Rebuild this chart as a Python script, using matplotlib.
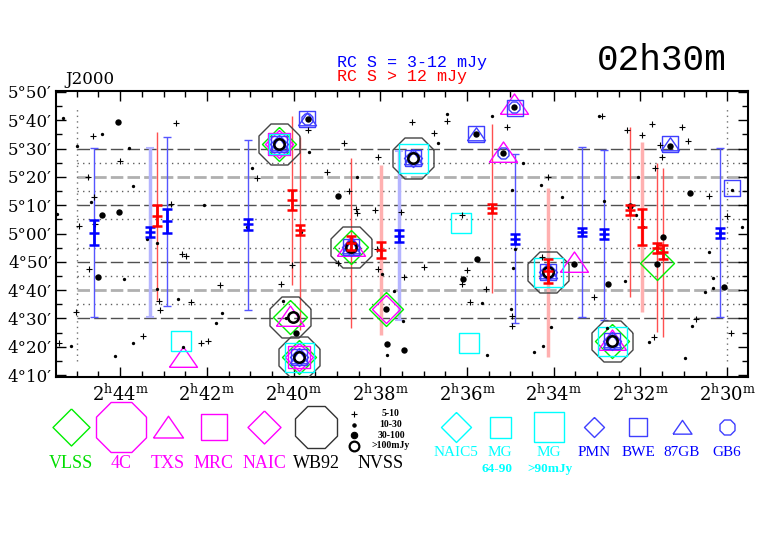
import numpy as np
import matplotlib
matplotlib.use('Agg')
import matplotlib.pyplot as plt
from matplotlib.ticker import MultipleLocator

plt.rcParams['font.family'] = 'DejaVu Serif'
plt.rcParams['mathtext.fontset'] = 'dejavuserif'

# RA in minutes after 2h, Dec in arcmin (300 = 5d00m)

# NVSS sources by flux class
nv_plus_ra = [44.62, 44.00, 42.71, 44.74, 44.60, 42.82, 40.84, 45.41, 45.01, 44.95, 44.71, 44.58, 43.47,
              43.10, 43.08, 42.57, 42.48, 42.36, 42.13, 41.97, 41.69, 39.66, 38.83, 39.23, 38.05, 38.72,
              38.56, 38.53, 38.12, 37.52, 37.27, 36.46, 36.76, 40.03, 40.29, 38.97, 38.07, 38.05, 37.45,
              36.99, 36.00, 36.11, 35.56, 35.93, 36.11, 35.07, 34.13, 32.88, 32.31, 31.96, 31.73, 31.55,
              31.50, 31.66, 31.04, 30.90, 30.42, 30.00, 34.96, 34.96, 34.27, 33.07, 31.68, 30.71, 29.91]
nv_plus_dec = [334.5, 325.6, 339.0, 320.0, 312.9, 310.4, 319.6, 261.3, 272.3, 302.7, 287.5, 303.4, 263.8,
               276.1, 273.0, 292.8, 292.0, 275.8, 261.3, 262.0, 281.8, 336.6, 332.0, 321.7, 327.0, 315.0,
               308.7, 307.2, 308.3, 307.6, 339.4, 339.8, 335.5, 288.9, 282.2, 289.6, 294.5, 287.5, 284.6,
               288.2, 287.1, 282.2, 280.4, 275.8, 306.5, 337.6, 320.0, 341.5, 336.6, 334.8, 338.7, 331.3,
               327.0, 323.1, 337.6, 332.7, 313.3, 306.2, 270.8, 267.3, 291.7, 277.6, 263.4, 269.8, 264.8]

nv_small_ra = [45.31, 44.99, 44.42, 43.79, 43.70, 44.67, 42.06, 45.45, 40.96, 45.13, 43.91, 44.12, 43.70,
               43.38, 43.15, 43.15, 42.66, 42.55, 41.79, 41.65, 41.07, 39.64, 38.53, 36.46, 36.67, 35.42,
               39.83, 40.24, 40.17, 37.96, 37.68, 37.47, 37.84, 35.65, 35.54, 34.71, 34.29, 34.96, 33.81,
               32.95, 32.84, 32.10, 32.05, 34.89, 34.94, 34.98, 34.06, 34.24, 34.45, 32.77, 32.35, 31.94,
               31.80, 30.97, 30.81, 30.51, 30.32, 30.32, 30.42, 29.66, 29.89]
nv_small_dec = [340.8, 330.9, 335.2, 330.2, 316.8, 311.1, 310.1, 306.9, 323.1, 260.2, 283.9, 256.7, 261.3,
                298.1, 296.6, 280.4, 276.9, 259.9, 268.4, 271.9, 302.3, 328.8, 320.0, 342.2, 332.0, 341.5,
                300.5, 276.1, 270.1, 285.7, 279.7, 269.1, 257.1, 275.4, 257.1, 324.9, 317.1, 315.4, 312.9,
                341.5, 311.5, 306.5, 320.0, 294.5, 287.8, 273.3, 267.0, 260.2, 258.1, 266.6, 283.2, 302.3,
                261.7, 256.0, 267.3, 279.3, 280.7, 284.3, 293.5, 302.3, 315.4]

nv_mid_ra = [44.05, 44.42, 44.02, 44.51, 39.66, 38.97, 39.94, 37.87, 37.84, 37.45, 35.77, 36.09, 35.79,
             34.91, 35.17, 30.85, 31.32, 32.24, 33.53, 32.75, 31.48, 31.62, 30.07]
nv_mid_dec = [339.4, 306.5, 307.6, 284.6, 340.5, 313.3, 264.8, 273.3, 261.0, 258.8, 291.0, 283.9, 335.2,
              344.7, 328.4, 314.3, 330.9, 309.7, 289.2, 282.2, 298.8, 289.2, 281.1]

nv_big_ra = [40.33, 37.24, 38.67, 40.01, 39.87, 34.13, 32.65]
nv_big_dec = [331.6, 326.7, 295.2, 270.5, 256.4, 286.4, 262.0]

# radio continuum (RC) sources: centre, error, and range
blue_ra = [44.60, 43.31, 42.92, 41.05, 37.57, 34.89, 33.35, 32.84, 30.16]
blue_dec = [300.2, 300.5, 304.4, 303.2, 299.1, 298.1, 300.5, 299.8, 300.2]
blue_err = [4.4, 1.8, 4.1, 1.8, 2.1, 1.8, 1.4, 1.8, 1.8]
blue_lo = [270.5, 270.5, 274.4, 273.0, 269.4, 268.4, 270.5, 269.4, 270.5]
blue_hi = [330.2, 330.2, 334.1, 333.0, 329.1, 328.1, 330.6, 329.5, 330.2]
blue_faint = [False, True, False, False, True, False, False, False, False]

red_ra = [43.15, 40.03, 39.85, 38.67, 37.98, 35.42, 34.13, 32.24, 31.96, 31.62, 31.48]
red_dec = [306.2, 311.8, 301.2, 296.5, 294.2, 308.9, 286.7, 308.3, 302.3, 294.9, 293.5]
red_err = [3.7, 3.5, 1.8, 2.5, 2.8, 1.6, 4.2, 1.8, 6.2, 1.9, 2.6]
red_lo = [276.5, 281.8, 265.9, 266.6, 264.1, 279.0, 256.4, 277.6, 272.3, 265.2, 263.4]
red_hi = [335.9, 341.5, 334.1, 326.7, 324.2, 338.7, 316.1, 337.6, 332.3, 324.9, 323.1]
red_faint = [False, False, False, False, True, False, True, False, True, False, False]

# catalogue positions
wb92_ra = [40.33, 37.24, 38.67, 40.08, 39.87, 34.13, 32.65]
wb92_dec = [331.6, 326.7, 295.2, 270.5, 256.4, 286.4, 262.0]
vlss_ra = [40.33, 38.67, 40.08, 39.87, 32.65, 31.62, 37.87]
vlss_dec = [331.6, 295.2, 270.5, 256.4, 262.0, 289.6, 273.3]
txs_ra = [42.55, 34.91, 35.17, 33.53, 38.67, 40.08, 32.65]
txs_dec = [256.2, 345.9, 328.8, 289.9, 295.5, 271.0, 262.5]
mrc_ra = [40.33, 39.87]
mrc_dec = [331.6, 256.4]
naic_ra = [40.33, 39.87, 37.87]
naic_dec = [331.6, 256.4, 273.3]
mg64_ra = [42.59, 36.14, 35.95, 40.33]
mg64_dec = [262.0, 303.7, 261.3, 331.6]
mg90_ra = [37.24, 39.87, 34.13, 32.65]
mg90_dec = [326.7, 256.4, 286.4, 262.0]
pmn_ra = [40.33, 37.24, 38.67, 39.87, 34.13, 32.65]
pmn_dec = [331.6, 326.7, 295.2, 256.4, 286.4, 262.0]
bwe_ra = [40.33, 39.68, 37.24, 35.79, 34.89, 31.32, 29.89, 38.67, 39.87, 34.13, 32.65]
bwe_dec = [331.6, 340.5, 326.7, 335.2, 344.3, 331.6, 316.1, 295.2, 256.4, 286.4, 262.0]
gb87_ra = [40.33, 39.68, 37.24, 35.79, 31.32, 38.67, 39.87, 34.13, 32.65]
gb87_dec = [331.6, 340.5, 326.7, 335.2, 331.6, 295.2, 256.4, 286.4, 262.0]
gb6_ra = [40.33, 39.68, 37.24, 34.91, 35.17, 39.87, 34.13, 32.65]
gb6_dec = [331.6, 340.5, 326.7, 344.7, 328.4, 256.4, 286.4, 262.0]

# strip boundaries
strip_dark = [330, 310, 290, 270]
strip_light = [320, 280]
strip_dot = [325, 315, 305, 295, 285, 275]
field_ra = [45.0, 30.0]

# marker shapes
ang = np.deg2rad(22.5 + 45 * np.arange(9))
OCTAGON = np.column_stack([np.cos(ang), np.sin(ang)])
DIAMOND = [(0, 1), (1, 0), (0, -1), (-1, 0), (0, 1)]
SQUARE = [(-1, -1), (1, -1), (1, 1), (-1, 1), (-1, -1)]
TRIANGLE = [(-1, -0.7), (1, -0.7), (0, 0.75), (-1, -0.7)]

GREEN = '#00ee00'
MAGENTA = '#ff00ff'
CYAN = '#00ffff'
BLUE = '#3f3fff'
GREY = '#444444'
LEG_FONT = 'Liberation Serif'

fig = plt.figure(figsize=(7.82, 5.42), dpi=100)
lax = fig.add_axes([0, 0, 1, 1])
lax.set_xlim(0, 782)
lax.set_ylim(542, 0)
lax.axis('off')

ax = fig.add_axes([56 / 782, 1 - 377 / 542, 692 / 782, 286 / 542])
ax.set_xlim(45.48, 29.52)
ax.set_ylim(249.3, 350.35)

ax.hlines(strip_dark, 45.0, 29.55, colors='#505050', linestyles=(0, (9, 3)), lw=1.0, zorder=1)
ax.hlines(strip_light, 45.0, 29.55, colors='#b0b0b0', linestyles=(0, (4.5, 1.5)), lw=2.0, zorder=1)
ax.hlines(strip_dot, 45.0, 29.55, colors='#606060', linestyles=(0, (1, 3)), lw=1.0, zorder=1)
ax.vlines(field_ra, 255, 345, colors='#707070', linestyles=(0, (1, 3)), lw=1.0, zorder=1)


def rc_bars(ras, decs, errs, los, his, faint, dark, thin, pale, caps):
    cs = 3 if caps else 0
    for x, y, e, lo, hi, f in zip(ras, decs, errs, los, his, faint):
        rng = [[y - lo], [hi - y]]
        if f:
            ax.errorbar(x, y, yerr=rng, fmt='none', ecolor=pale, elinewidth=2.5,
                        capsize=cs, capthick=1.5, zorder=2)
        else:
            ax.errorbar(x, y, yerr=rng, fmt='none', ecolor=thin, elinewidth=1.0,
                        capsize=cs, capthick=1.0, zorder=2)
        ax.errorbar(x, y, yerr=e, fmt='none', ecolor=dark, elinewidth=2.0, capsize=3.5,
                    capthick=1.8, zorder=5)
        ax.plot(x, y, marker='_', ms=7, mew=1.8, color=dark, zorder=5)


rc_bars(blue_ra, blue_dec, blue_err, blue_lo, blue_hi, blue_faint, '#0000ff', '#5555ff', '#b4b4ff', True)
rc_bars(red_ra, red_dec, red_err, red_lo, red_hi, red_faint, '#ff0000', '#ff5050', '#ffb0b0', False)


def cat(ras, decs, shape, color, size_px, lw=1.0, axis=ax):
    axis.plot(ras, decs, ls='none', marker=shape, ms=size_px * 0.72, mfc='none', mec=color,
              mew=lw, zorder=3)


cat(wb92_ra, wb92_dec, OCTAGON, GREY, 41)
cat(vlss_ra, vlss_dec, DIAMOND, GREEN, 34)
cat(txs_ra, txs_dec, TRIANGLE, MAGENTA, 28)
cat(mrc_ra, mrc_dec, SQUARE, MAGENTA, 23)
cat(naic_ra, naic_dec, DIAMOND, MAGENTA, 28)
cat(mg64_ra, mg64_dec, SQUARE, CYAN, 20)
cat(mg90_ra, mg90_dec, SQUARE, CYAN, 29)
cat(pmn_ra, pmn_dec, DIAMOND, BLUE, 18)
cat(bwe_ra, bwe_dec, SQUARE, BLUE, 16)
cat(gb87_ra, gb87_dec, TRIANGLE, BLUE, 18)
cat(gb6_ra, gb6_dec, OCTAGON, BLUE, 11)

ax.plot(nv_plus_ra, nv_plus_dec, ls='none', marker='+', ms=4.5, mew=0.8, color='k', zorder=4)
ax.plot(nv_small_ra, nv_small_dec, ls='none', marker='o', ms=2.4, mew=0, color='k', zorder=4)
ax.plot(nv_mid_ra, nv_mid_dec, ls='none', marker='o', ms=4.6, mew=0, color='k', zorder=4)
ax.plot(nv_big_ra, nv_big_dec, ls='none', marker='o', ms=7.5, mew=1.8, mfc='none', mec='k', zorder=4)

# axes styling
ra_ticks = np.arange(30, 45, 2)
ax.set_xticks(ra_ticks)
ax.set_xticklabels([r'$2^{\rm h}%d^{\rm m}$' % m for m in ra_ticks])
ax.xaxis.set_minor_locator(MultipleLocator(0.5))
dec_ticks = np.arange(250, 351, 10)
ax.set_yticks(dec_ticks)
ax.set_yticklabels(['%d\u00b0%02d\u2032' % (d // 60, d % 60) for d in dec_ticks])
ax.yaxis.set_minor_locator(MultipleLocator(5))
ax.tick_params(which='both', direction='in', top=True, right=True, width=1.0, colors='k')
ax.tick_params(which='major', length=7)
ax.tick_params(which='minor', length=4.5)
ax.tick_params(axis='x', labelsize=13, pad=5)
ax.tick_params(axis='y', labelsize=12, pad=3)
for s in ax.spines.values():
    s.set_linewidth(1.5)


def px(x, y):
    return x / 782, 1 - y / 542


fig.text(*px(65, 84), 'J2000', fontsize=12, ha='left', va='baseline')
fig.text(*px(337, 62), 'RC S = 3-12 mJy', color='#0000ff', fontsize=12, family='Liberation Mono',
         ha='left', va='center')
fig.text(*px(337, 77), 'RC S > 12 mJy', color='#ff0000', fontsize=12, family='Liberation Mono',
         ha='left', va='center')
fig.text(*px(662, 60), '02h30m', fontsize=26, family='Liberation Mono', ha='center', va='center')

# legend
left_keys = [('VLSS', DIAMOND, GREEN, 71, 37), ('4C', OCTAGON, MAGENTA, 121, 50),
             ('TXS', TRIANGLE, MAGENTA, 168, 30), ('MRC', SQUARE, MAGENTA, 214, 27),
             ('NAIC', DIAMOND, MAGENTA, 264, 33), ('WB92', OCTAGON, '#333333', 316, 42)]
for name, shape, col, x, size in left_keys:
    lax.plot([x], [427], ls='none', marker=shape, ms=size * 0.72, mfc='none', mec=col, mew=1.0)
    lax.text(x, 464, name, color='#00dd00' if name == 'VLSS' else ('k' if name == 'WB92' else col),
             fontsize=13, family=LEG_FONT, ha='center', va='center')

right_keys = [('NAIC5', DIAMOND, CYAN, 456, 30), ('MG', SQUARE, CYAN, 500, 21),
              ('MG', SQUARE, CYAN, 549, 30), ('PMN', DIAMOND, BLUE, 594, 20),
              ('BWE', SQUARE, BLUE, 638, 18), ('87GB', TRIANGLE, BLUE, 682, 19),
              ('GB6', OCTAGON, BLUE, 727, 15)]
for name, shape, col, x, size in right_keys:
    lax.plot([x], [427], ls='none', marker=shape, ms=size * 0.72, mfc='none', mec=col, mew=1.0)
    lax.text(x, 453, name, color=CYAN if col == CYAN else '#0000ff', fontsize=11,
             family=LEG_FONT, ha='center', va='center')
lax.text(497, 469, '64-90', color=CYAN, fontsize=9.5, family=LEG_FONT, fontweight='bold',
         ha='center', va='center')
lax.text(550, 469, '>90mJy', color=CYAN, fontsize=9.5, family=LEG_FONT, fontweight='bold',
         ha='center', va='center')

nvss_rows = [('5-10', '+', 4.5, 'k', 414), ('10-30', 'o', 2.4, 'k', 424.5),
             ('30-100', 'o', 4.6, 'k', 435), ('>100mJy', 'o', 7, 'none', 446)]
for lab, mk, ms, fc, y in nvss_rows:
    lax.plot([354], [y], ls='none', marker=mk, ms=ms, mfc=fc, mec='k',
             mew=1.6 if fc == 'none' else 0.8)
    lax.text(391, y, lab, fontsize=7, family=LEG_FONT, fontweight='bold', ha='center', va='center')
lax.text(381, 464, 'NVSS', fontsize=13, family=LEG_FONT, ha='center', va='center')

fig.savefig('out.png', dpi=100)
